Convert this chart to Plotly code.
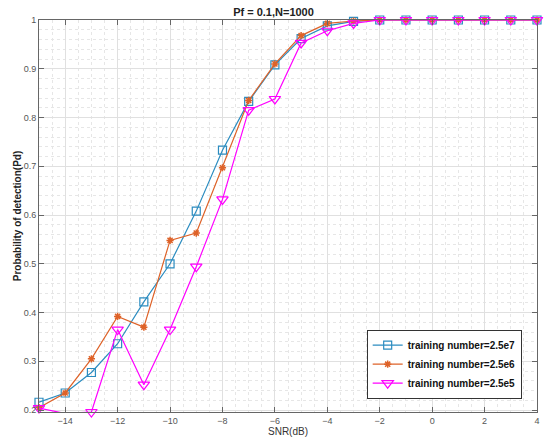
import plotly.graph_objects as go

snr = [-15, -14, -13, -12, -11, -10, -9, -8, -7, -6, -5, -4, -3, -2, -1, 0, 1, 2, 3, 4]
pd_25e7 = [0.216, 0.235, 0.277, 0.336, 0.422, 0.500, 0.608, 0.733, 0.833, 0.908, 0.962, 0.988, 0.997,
           1.0, 1.0, 1.0, 1.0, 1.0, 1.0, 1.0]
pd_25e6 = [0.205, 0.235, 0.305, 0.392, 0.370, 0.548, 0.563, 0.697, 0.835, 0.910, 0.968, 0.993, 0.998,
           1.0, 1.0, 1.0, 1.0, 1.0, 1.0, 1.0]
pd_25e5 = [0.204, 0.193, 0.196, 0.365, 0.252, 0.365, 0.494, 0.632, 0.815, 0.838, 0.953, 0.978, 0.993,
           1.0, 1.0, 1.0, 1.0, 1.0, 1.0, 1.0]
names = ["training number=2.5e7", "training number=2.5e6", "training number=2.5e5"]

x_ticks = [-14, -12, -10, -8, -6, -4, -2, 0, 2, 4]
y_ticks = [0.2, 0.3, 0.4, 0.5, 0.6, 0.7, 0.8, 0.9, 1.0]
y_labels = ["0.2", "0.3", "0.4", "0.5", "0.6", "0.7", "0.8", "0.9", "1"]

FONT = "Liberation Sans, Arial"

fig = go.Figure()
fig.add_trace(go.Scatter(x=snr, y=pd_25e7, mode="lines+markers", name=names[0], cliponaxis=False,
                         line=dict(color="#2b8cc0", width=1.2),
                         marker=dict(symbol="square-open", size=8, color="#2b8cc0", line=dict(width=1.2))))
fig.add_trace(go.Scatter(x=snr, y=pd_25e6, mode="lines+markers", name=names[1], cliponaxis=False,
                         line=dict(color="#DE6228", width=1.2),
                         marker=dict(symbol="asterisk-open", size=6, color="#DE6228", line=dict(width=1.5, color="#DE6228"))))
fig.add_trace(go.Scatter(x=snr, y=pd_25e5, mode="lines+markers", name=names[2], cliponaxis=False,
                         line=dict(color="#FF00FF", width=1.2),
                         marker=dict(symbol="triangle-down-open", size=10, color="#FF00FF", line=dict(width=1.2))))

axis_common = dict(showline=True, linecolor="#666666", linewidth=1, mirror="ticks",
                   ticks="inside", ticklen=5, tickcolor="#666666",
                   showgrid=True, gridcolor="#e0e0e0", gridwidth=1, zeroline=False,
                   tickfont=dict(family=FONT, size=9, color="#555555"))

fig.update_xaxes(range=[-15, 4], tickvals=x_ticks,
                 minor=dict(dtick=0.5, showgrid=True, gridcolor="#e6e6e6", griddash="dot", ticks=""),
                 title=dict(text="SNR(dB)", font=dict(family=FONT, size=10, color="#333333"), standoff=2),
                 **axis_common)
fig.update_yaxes(range=[0.196, 1.0], tickvals=y_ticks, ticktext=y_labels,
                 minor=dict(dtick=0.02, showgrid=True, gridcolor="#e6e6e6", griddash="dot", ticks=""),
                 title=dict(text="<b>Probability of detection(Pd)</b>", font=dict(family=FONT, size=10, color="#222222"), standoff=0),
                 **axis_common)

fig.update_layout(
    width=547, height=442,
    margin=dict(l=39, r=7, t=20, b=28),
    paper_bgcolor="white", plot_bgcolor="white",
    title=dict(text="<b>Pf = 0.1,N=1000</b>", x=0.5, xanchor="center", y=0.982, yanchor="top",
               font=dict(family=FONT, size=11, color="#222222")),
    legend=dict(x=0.658, y=0.21, xanchor="left", yanchor="top",
                bgcolor="white", bordercolor="#333333", borderwidth=1,
                font=dict(family=FONT, size=10, color="#111111", weight="bold"),
                tracegroupgap=0, itemwidth=30),
    showlegend=True,
)

fig.write_html("out.html")
